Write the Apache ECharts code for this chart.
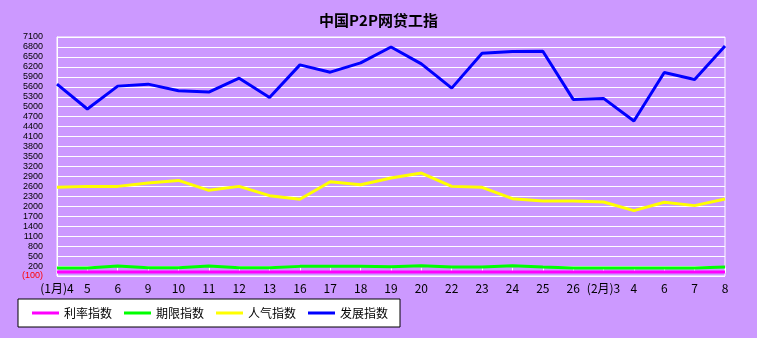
<!DOCTYPE html>
<html>
<head>
<meta charset="utf-8">
<script src="https://cdn.jsdelivr.net/npm/echarts@6/dist/echarts.min.js"></script>
<style>
html,body{margin:0;padding:0;background:#CC99FF;}
#c{width:757px;height:338px;}
</style>
</head>
<body>
<div id="c"></div>
<script>
const categories = ['(1月)4','5','6','9','10','11','12','13','16','17','18','19','20','22','23','24','25','26','(2月)3','4','6','7','8'];
const rateIndex   = [20,20,20,20,20,20,20,20,20,20,20,20,20,20,20,20,20,20,20,20,20,20,20];
const termIndex   = [140,140,200,150,150,200,150,150,190,190,190,180,210,170,170,210,170,140,140,140,140,140,170];
const moodIndex   = [2570,2600,2600,2700,2780,2480,2600,2320,2210,2740,2650,2850,3000,2600,2570,2230,2160,2160,2130,1870,2120,2020,2220];
const growthIndex = [5680,4930,5620,5680,5480,5440,5860,5280,6260,6040,6320,6800,6290,5560,6610,6660,6670,5220,5250,4570,6030,5820,6830];
const seriesNames = ['利率指数','期限指数','人气指数','发展指数'];
const seriesColors = ['#FF00FF','#00FF00','#FFFF00','#0000FF'];
const yMin = -100, yMax = 7100, yStep = 300;

const chart = echarts.init(document.getElementById('c'), null, {renderer:'canvas'});
const allData = [rateIndex, termIndex, moodIndex, growthIndex];
chart.setOption({
  backgroundColor: '#CC99FF',
  animation: false,
  title: {
    text: '中国P2P网贷工指',
    left: 'center',
    top: 8,
    textStyle: {fontFamily: 'Noto Sans CJK SC', fontSize: 15, fontWeight: 'bold', color: '#000'}
  },
  legend: {
    left: 18, top: 299,
    padding: [7, 12, 7, 14],
    itemGap: 12,
    itemWidth: 27, itemHeight: 3,
    icon: 'rect',
    backgroundColor: '#fff',
    borderColor: '#000', borderWidth: 1,
    textStyle: {fontFamily: 'Noto Sans CJK SC', fontSize: 12, color: '#000', lineHeight: 14},
    data: seriesNames
  },
  grid: {
    left: 57, right: 32, top: 37, bottom: 62,
    show: true, borderColor: '#fff', borderWidth: 1, backgroundColor: 'transparent'
  },
  xAxis: {
    type: 'category',
    data: categories,
    boundaryGap: false,
    axisLine: {lineStyle: {color: '#fff', width: 1}},
    axisTick: {inside: true, length: 5, lineStyle: {color: '#fff'}},
    axisLabel: {interval: 0, margin: 6, fontFamily: 'Noto Sans CJK SC', fontSize: 12, color: '#000'},
    splitLine: {show: false}
  },
  yAxis: {
    type: 'value',
    min: yMin, max: yMax, interval: yStep,
    axisLine: {show: true, lineStyle: {color: '#fff'}},
    axisTick: {show: false},
    splitLine: {lineStyle: {color: '#fff', width: 1}},
    axisLabel: {
      margin: 14,
      fontFamily: 'Liberation Sans', fontSize: 9,
      color: function (v) { return v < 0 ? '#FF0000' : '#000'; },
      formatter: function (v) { return v < 0 ? '(' + Math.abs(v) + ')' : String(v); }
    }
  },
  series: seriesNames.map((n, i) => ({
    name: n, type: 'line', data: allData[i],
    symbol: 'none', lineStyle: {color: seriesColors[i], width: 3},
    itemStyle: {color: seriesColors[i]}
  }))
});
</script>
</body>
</html>
